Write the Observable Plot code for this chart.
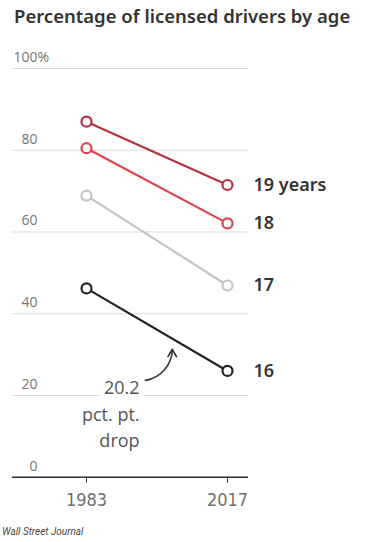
<!DOCTYPE html>
<html>
<head>
<meta charset="utf-8">
<script src="https://cdn.jsdelivr.net/npm/d3@7"></script>
<script src="https://cdn.jsdelivr.net/npm/@observablehq/plot@0.6"></script>
<style>
  html, body { margin: 0; padding: 0; background: #fff; width: 392px; height: 542px; overflow: hidden; }
  #title { position: absolute; left: 14px; top: 7px; font: 600 18.5px/18px "Noto Sans", sans-serif; color: #333; white-space: nowrap; }
  #chart { position: absolute; left: 0; top: 40px; }
  #caption { position: absolute; left: 2px; top: 526px; font: italic 10px/12px Roboto, sans-serif; color: #444; }
</style>
</head>
<body>
<div id="title">Percentage of licensed drivers by age</div>
<div id="chart"></div>
<div id="caption">Wall Street Journal</div>
<script>
const ages = ["19 years", "18", "17", "16"];
const years = [1983, 2017];
const values1983 = [87.0, 80.5, 68.9, 46.2];
const values2017 = [71.5, 62.1, 46.9, 26.0];
const colors = ["#b5313f", "#e0404f", "#c4c4c4", "#222222"];
const yTicks = [0, 20, 40, 60, 80, 100];
const xTicks = [1983, 2017];
const annotation = [{year: 1995.8, value: 20, text: "20.2\npct. pt.\ndrop"}];
const arrowData = [{year1: 1997.2, value1: 23.7, year2: 2003.7, value2: 31.3}];

const rows = [];
ages.forEach((a, i) => {
  rows.push({age: a, year: years[0], value: values1983[i], color: colors[i]});
  rows.push({age: a, year: years[1], value: values2017[i], color: colors[i]});
});
const ends = rows.filter(d => d.year === years[1]);

const lightFont = "'Open Sans', sans-serif";

const chart = Plot.plot({
  width: 392,
  height: 480,
  marginLeft: 12,
  marginRight: 144,
  marginTop: 28,
  marginBottom: 43.3,
  style: {background: "white", overflow: "visible"},
  x: {type: "linear", domain: [1983, 2017], range: [86, 227], axis: null},
  y: {domain: [0, 100], axis: null},
  color: {type: "identity"},
  marks: [
    Plot.gridY(yTicks, {stroke: "#dcdcdc", strokeOpacity: 1, strokeWidth: 1}),
    Plot.text(yTicks, {y: d => d, text: d => String(d), frameAnchor: "left", textAnchor: "end", dx: 25, dy: -11,
      fontSize: 14, fill: "#757575", fontFamily: lightFont, fontWeight: 400}),
    Plot.text([100], {y: d => d, text: () => "%", frameAnchor: "left", textAnchor: "start", dx: 25, dy: -11,
      fontSize: 14, fill: "#757575", fontFamily: lightFont, fontWeight: 400}),
    Plot.ruleY([0], {stroke: "#333", strokeWidth: 1.5}),
    Plot.axisX({ticks: xTicks, tickSize: 6, tickPadding: 10, tickFormat: d => String(d),
      stroke: "#333", fill: "#707070", fontSize: 18, fontWeight: 400,
      fontFamily: "'Liberation Sans Narrow', 'DejaVu Sans Condensed', sans-serif"}),
    Plot.line(rows, {x: "year", y: "value", z: "age", stroke: "color", strokeWidth: 2.2}),
    Plot.dot(rows, {x: "year", y: "value", r: 5, stroke: "color", fill: "white", strokeWidth: 2.2}),
    Plot.text(ends, {x: "year", y: "value", text: "age", textAnchor: "start", dx: 26,
      fontSize: 18, fontWeight: 600, fill: "#333", fontFamily: "'Noto Sans', sans-serif"}),
    Plot.text(annotation, {x: "year", y: "value", text: "text", textAnchor: "end", lineAnchor: "middle",
      dy: 16.7, lineHeight: 1.45, fontSize: 18, fill: "#555", stroke: "white", strokeWidth: 10,
      fontFamily: lightFont, fontWeight: 400}),
    Plot.arrow(arrowData, {x1: "year1", y1: "value1", x2: "year2", y2: "value2", bend: -40,
      stroke: "#333", strokeWidth: 1.6, headLength: 8})
  ]
});
document.getElementById("chart").appendChild(chart);
</script>
</body>
</html>
